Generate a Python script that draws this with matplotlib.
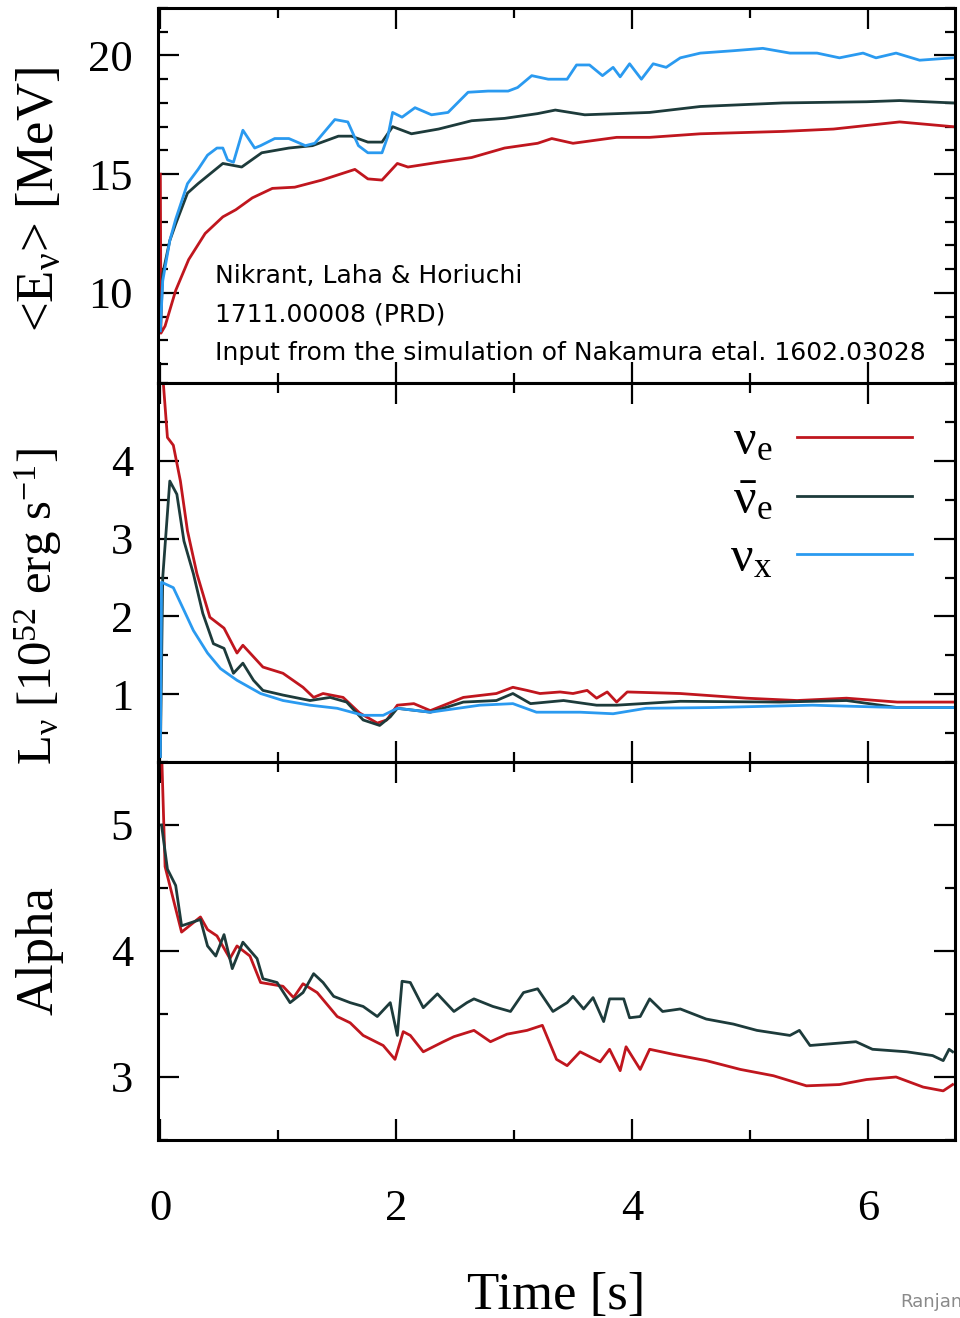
import matplotlib
matplotlib.use("Agg")
import matplotlib.pyplot as plt
from matplotlib.ticker import MultipleLocator

# ---------------- data ----------------
# Panel 1: mean energy <E_nu> [MeV]
t_E_nue = [0.0, 0.005, 0.04, 0.13, 0.24, 0.38, 0.53, 0.64, 0.78, 0.95, 1.14, 1.37, 1.65, 1.76, 1.88,
           2.01, 2.10, 2.36, 2.64, 2.92, 3.20, 3.32, 3.50, 3.87, 4.15, 4.58, 5.28, 5.71, 5.99, 6.27, 6.72]
E_nue = [15.0, 8.3, 8.6, 10.1, 11.4, 12.5, 13.2, 13.5, 14.0, 14.4, 14.45, 14.75, 15.2, 14.8, 14.75,
         15.45, 15.3, 15.5, 15.7, 16.1, 16.3, 16.5, 16.3, 16.55, 16.55, 16.7, 16.8, 16.9, 17.05, 17.2, 17.0]

t_E_nueb = [0.0, 0.02, 0.08, 0.13, 0.23, 0.32, 0.53, 0.69, 0.86, 1.09, 1.29, 1.51, 1.62, 1.76, 1.88,
            1.97, 2.13, 2.36, 2.64, 2.92, 3.20, 3.35, 3.60, 4.15, 4.58, 5.28, 5.99, 6.27, 6.72]
E_nueb = [8.4, 10.8, 12.2, 12.9, 14.2, 14.6, 15.45, 15.3, 15.9, 16.1, 16.2, 16.6, 16.6, 16.35, 16.35,
          17.0, 16.7, 16.9, 17.25, 17.35, 17.55, 17.7, 17.5, 17.6, 17.85, 18.0, 18.05, 18.1, 18.0]

t_E_nux = [0.0, 0.02, 0.08, 0.13, 0.23, 0.32, 0.40, 0.48, 0.53, 0.57, 0.62, 0.70, 0.80, 0.85, 0.97,
           1.09, 1.23, 1.31, 1.48, 1.59, 1.68, 1.76, 1.88, 1.93, 1.97, 2.05, 2.16, 2.30, 2.44, 2.61,
           2.78, 2.95, 3.03, 3.15, 3.29, 3.45, 3.53, 3.64, 3.75, 3.84, 3.90, 3.98, 4.08, 4.18, 4.29,
           4.41, 4.58, 4.86, 5.11, 5.34, 5.57, 5.76, 5.96, 6.07, 6.24, 6.44, 6.72]
E_nux = [8.4, 10.5, 12.2, 13.1, 14.6, 15.2, 15.8, 16.1, 16.1, 15.6, 15.5, 16.85, 16.1, 16.2, 16.5,
         16.5, 16.2, 16.3, 17.3, 17.2, 16.2, 15.9, 15.9, 16.6, 17.6, 17.4, 17.8, 17.5, 17.6, 18.45,
         18.5, 18.5, 18.65, 19.15, 19.0, 19.0, 19.6, 19.6, 19.15, 19.5, 19.1, 19.65, 19.0, 19.65, 19.5,
         19.9, 20.1, 20.2, 20.3, 20.1, 20.1, 19.9, 20.1, 19.9, 20.1, 19.8, 19.9]

# Panel 2: luminosity L_nu [1e52 erg/s]
t_L_nue = [0.01, 0.03, 0.06, 0.11, 0.17, 0.23, 0.31, 0.42, 0.54, 0.65, 0.70, 0.87, 1.04, 1.21, 1.30,
           1.38, 1.55, 1.69, 1.84, 1.92, 2.01, 2.15, 2.29, 2.57, 2.85, 2.99, 3.11, 3.22, 3.39, 3.50,
           3.62, 3.70, 3.79, 3.87, 3.96, 4.41, 4.97, 5.40, 5.82, 6.25, 6.72]
L_nue = [5.3, 4.9, 4.3, 4.2, 3.74, 3.1, 2.55, 1.99, 1.85, 1.53, 1.63, 1.35, 1.27, 1.09, 0.96,
         1.01, 0.96, 0.76, 0.63, 0.67, 0.86, 0.88, 0.79, 0.96, 1.01, 1.09, 1.05, 1.01, 1.03, 1.01,
         1.05, 0.95, 1.03, 0.90, 1.03, 1.01, 0.95, 0.92, 0.95, 0.90, 0.90]

t_L_nueb = [0.0, 0.02, 0.08, 0.14, 0.20, 0.28, 0.36, 0.45, 0.54, 0.62, 0.70, 0.79, 0.87, 1.04, 1.27,
            1.44, 1.58, 1.72, 1.86, 1.95, 2.01, 2.29, 2.57, 2.85, 2.99, 3.14, 3.42, 3.70, 3.87, 4.41,
            5.25, 5.82, 6.25, 6.72]
L_nueb = [0.2, 2.5, 3.74, 3.57, 2.97, 2.55, 2.04, 1.65, 1.59, 1.27, 1.40, 1.18, 1.05, 0.99, 0.92,
          0.96, 0.90, 0.67, 0.60, 0.71, 0.82, 0.77, 0.90, 0.92, 1.01, 0.88, 0.92, 0.86, 0.86, 0.91,
          0.90, 0.92, 0.83, 0.83]

t_L_nux = [0.0, 0.01, 0.11, 0.20, 0.28, 0.40, 0.51, 0.65, 0.85, 1.04, 1.27, 1.50, 1.72, 1.89, 2.01,
           2.29, 2.71, 2.99, 3.19, 3.56, 3.84, 4.12, 4.69, 5.53, 6.25, 6.72]
L_nux = [0.2, 2.44, 2.37, 2.08, 1.82, 1.53, 1.33, 1.18, 1.01, 0.92, 0.86, 0.82, 0.73, 0.73, 0.82,
         0.77, 0.86, 0.88, 0.77, 0.77, 0.75, 0.82, 0.83, 0.86, 0.83, 0.83]

# Panel 3: pinching parameter alpha
t_A_nue = [0.01, 0.04, 0.11, 0.18, 0.34, 0.40, 0.48, 0.59, 0.65, 0.76, 0.85, 1.04, 1.13, 1.21, 1.33,
           1.50, 1.61, 1.72, 1.89, 1.99, 2.06, 2.12, 2.23, 2.40, 2.49, 2.66, 2.80, 2.94, 3.11, 3.24,
           3.36, 3.45, 3.56, 3.73, 3.81, 3.90, 3.95, 4.07, 4.15, 4.35, 4.63, 4.92, 5.20, 5.48, 5.76,
           5.99, 6.24, 6.47, 6.64, 6.72]
A_nue = [5.6, 4.67, 4.41, 4.15, 4.27, 4.17, 4.12, 3.94, 4.04, 3.96, 3.75, 3.72, 3.63, 3.74, 3.67,
         3.48, 3.43, 3.33, 3.25, 3.14, 3.36, 3.33, 3.20, 3.28, 3.32, 3.37, 3.28, 3.34, 3.37, 3.41,
         3.14, 3.09, 3.20, 3.12, 3.22, 3.05, 3.24, 3.06, 3.22, 3.18, 3.13, 3.06, 3.01, 2.93, 2.94,
         2.98, 3.00, 2.92, 2.89, 2.94]

t_A_nueb = [0.01, 0.06, 0.13, 0.18, 0.34, 0.40, 0.47, 0.54, 0.61, 0.70, 0.82, 0.87, 0.99, 1.10, 1.21,
            1.30, 1.38, 1.47, 1.61, 1.72, 1.84, 1.95, 2.01, 2.05, 2.12, 2.23, 2.35, 2.49, 2.60, 2.66,
            2.82, 2.97, 3.08, 3.20, 3.33, 3.45, 3.50, 3.59, 3.67, 3.76, 3.81, 3.93, 3.98, 4.07, 4.15,
            4.26, 4.41, 4.63, 4.86, 5.06, 5.34, 5.42, 5.51, 5.90, 6.04, 6.33, 6.55, 6.64, 6.69, 6.72]
A_nueb = [5.0, 4.65, 4.52, 4.20, 4.25, 4.04, 3.96, 4.13, 3.86, 4.07, 3.94, 3.78, 3.75, 3.59, 3.67,
          3.82, 3.75, 3.64, 3.59, 3.56, 3.48, 3.59, 3.33, 3.76, 3.75, 3.55, 3.66, 3.52, 3.59, 3.62,
          3.56, 3.52, 3.67, 3.70, 3.52, 3.59, 3.64, 3.54, 3.63, 3.44, 3.62, 3.62, 3.47, 3.48, 3.62,
          3.52, 3.54, 3.46, 3.42, 3.37, 3.33, 3.37, 3.25, 3.28, 3.22, 3.20, 3.17, 3.13, 3.22, 3.20]

x_ticks = [0, 2, 4, 6]
legend_labels = [r'$\mathrm{\nu_e}$', r'$\mathrm{\bar{\nu}_e}$', r'$\mathrm{\nu_x}$']

# ---------------- style ----------------
RED = '#c0161e'
DARK = '#1d3b3b'
BLUE = '#2a9af0'

plt.rcParams['font.family'] = ['Liberation Serif', 'DejaVu Serif']
plt.rcParams['mathtext.fontset'] = 'custom'
plt.rcParams['mathtext.rm'] = 'Liberation Serif'
plt.rcParams['mathtext.it'] = 'Liberation Serif:italic'
plt.rcParams['mathtext.bf'] = 'Liberation Serif:bold'

fig = plt.figure(figsize=(9.6, 13.18), dpi=100)
L, W = 158 / 960, (955 - 158) / 960
def fy(py):
    return 1 - py / 1318
ax1 = fig.add_axes([L, fy(383), W, fy(8) - fy(383)])
ax2 = fig.add_axes([L, fy(762), W, fy(383) - fy(762)], sharex=ax1)
ax3 = fig.add_axes([L, fy(1140), W, fy(762) - fy(1140)], sharex=ax1)

lw = 2.0
ax1.plot(t_E_nue, E_nue, color=RED, lw=lw)
ax1.plot(t_E_nueb, E_nueb, color=DARK, lw=lw)
ax1.plot(t_E_nux, E_nux, color=BLUE, lw=lw)

ax2.plot(t_L_nue, L_nue, color=RED, lw=lw, label=legend_labels[0])
ax2.plot(t_L_nueb, L_nueb, color=DARK, lw=lw, label=legend_labels[1])
ax2.plot(t_L_nux, L_nux, color=BLUE, lw=lw, label=legend_labels[2])

ax3.plot(t_A_nue, A_nue, color=RED, lw=lw)
ax3.plot(t_A_nueb, A_nueb, color=DARK, lw=lw)

ax1.set_xlim(-0.02, 6.74)
ax1.set_ylim(6.2, 22.0)
ax2.set_ylim(0.13, 5.0)
ax3.set_ylim(2.5, 5.5)

ax1.set_yticks([10, 15, 20])
ax1.yaxis.set_minor_locator(MultipleLocator(1))
ax2.set_yticks([1, 2, 3, 4])
ax2.yaxis.set_minor_locator(MultipleLocator(0.5))
ax3.set_yticks([3, 4, 5])
ax3.yaxis.set_minor_locator(MultipleLocator(0.5))
ax3.set_xticks(x_ticks)
ax3.xaxis.set_minor_locator(MultipleLocator(1))

for ax in (ax1, ax2, ax3):
    for s in ax.spines.values():
        s.set_linewidth(2.2)
    ax.tick_params(which='both', direction='in', top=True, right=True, width=1.6)
    ax.tick_params(which='major', length=15, labelsize=32, pad=18)
    ax.tick_params(which='minor', length=7)
for ax in (ax1, ax2):
    ax.tick_params(labelbottom=False)
ax3.tick_params(axis='x', pad=35)

ax1.set_ylabel(r'<E$_\mathrm{\nu}$> [MeV]', fontsize=38)
ax2.set_ylabel(r'L$_\mathrm{\nu}$ [10$^{52}$ erg s$^{-1}$]', fontsize=35)
ax3.set_ylabel('Alpha', fontsize=38)
ax1.yaxis.set_label_coords(-0.118, 0.49)
ax2.yaxis.set_label_coords(-0.118, 0.41)
ax3.yaxis.set_label_coords(-0.118, 0.5)
ax3.set_xlabel('Time [s]', fontsize=38, labelpad=31)

leg = ax2.legend(loc='upper right', bbox_to_anchor=((912 - 158) / 797, 1 - (419 - 383) / 379),
                 frameon=False, markerfirst=False, fontsize=36, handlelength=2.3,
                 handletextpad=0.5, labelspacing=0.24, borderaxespad=0, borderpad=0)

note = "Nikrant, Laha & Horiuchi\n1711.00008 (PRD)\nInput from the simulation of Nakamura etal. 1602.03028"
ax1.text(0.072, 0.317, note, transform=ax1.transAxes, fontsize=18, family='DejaVu Sans',
         va='top', ha='left', linespacing=1.75)

fig.text(900 / 960, 1 - 1302 / 1318, 'Ranjan', fontsize=13, color='#8a8a8a',
         family='DejaVu Sans', ha='left', va='center')

fig.savefig('out.png', dpi=100)
